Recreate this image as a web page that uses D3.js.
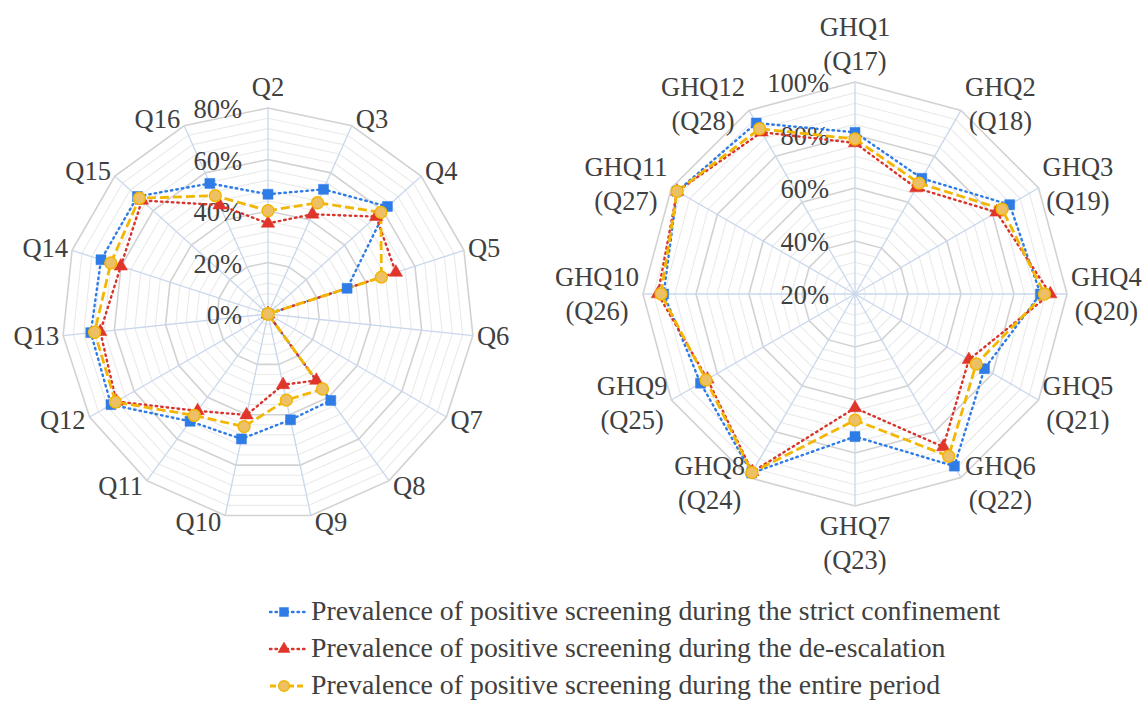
<!DOCTYPE html>
<html>
<head>
<meta charset="utf-8">
<script src="https://cdn.jsdelivr.net/npm/d3@7"></script>
<style>
  html, body { margin: 0; padding: 0; background: #fff; }
  svg { display: block; font-family: "Liberation Serif", "Times New Roman", serif; }
</style>
</head>
<body>
<div id="chart"></div>
<script>
// ---- data ----
const leftCategories = ['Q2', 'Q3', 'Q4', 'Q5', 'Q6', 'Q7', 'Q8', 'Q9', 'Q10', 'Q11', 'Q12', 'Q13', 'Q14', 'Q15', 'Q16'];
const leftStrict  = [46.5, 53.0, 62.4, 32.3, 0, 0, 41.5, 42.0, 49.6, 51.5, 70.4, 69.2, 68.2, 68.2, 55.5];
const leftDeesc   = [35.2, 42.4, 56.5, 52.2, 0, 0, 31.9, 28.1, 40.1, 46.5, 68.0, 65.5, 60.1, 65.9, 46.3];
const leftEntire  = [40.1, 47.3, 59.0, 46.3, 0, 0, 36.0, 34.2, 44.7, 48.7, 68.4, 67.7, 64.2, 67.2, 50.3];
const leftTicks = ['0%', '20%', '40%', '60%', '80%'];

const rightCategories = [
  ['GHQ1', '(Q17)'], ['GHQ2', '(Q18)'], ['GHQ3', '(Q19)'], ['GHQ4', '(Q20)'],
  ['GHQ5', '(Q21)'], ['GHQ6', '(Q22)'], ['GHQ7', '(Q23)'], ['GHQ8', '(Q24)'],
  ['GHQ9', '(Q25)'], ['GHQ10', '(Q26)'], ['GHQ11', '(Q27)'], ['GHQ12', '(Q28)']
];
const rightStrict = [81.0, 70.4, 87.4, 90.0, 76.4, 95.0, 73.8, 98.0, 87.3, 92.2, 97.5, 94.5];
const rightDeesc  = [77.0, 66.2, 81.7, 93.7, 69.6, 86.6, 63.0, 97.5, 84.3, 94.4, 97.5, 90.5];
const rightEntire = [78.5, 68.3, 84.1, 91.5, 72.8, 90.7, 67.6, 97.8, 84.9, 93.2, 97.5, 92.0];
const rightTicks = ['20%', '40%', '60%', '80%', '100%'];

const seriesNames = [
  'Prevalence of positive screening during the strict confinement',
  'Prevalence of positive screening during the de-escalation',
  'Prevalence of positive screening during the entire period'
];

// ---- styles ----
const W = 1146, H = 701;
const textColor = '#404040';
const labelSize = 26.5;
const seriesStyle = [
  { color: '#2F7CE6', dash: '1.5,4', width: 2.4, symbol: d3.symbolSquare, size: 100, fill: '#2F7CE6', stroke: '#2F7CE6' },
  { color: '#D9342B', dash: '1.5,4', width: 2.4, symbol: d3.symbolTriangle, size: 78, fill: '#E0352A', stroke: '#E0352A' },
  { color: '#F2B705', dash: '9,4', width: 2.8, symbol: d3.symbolCircle, size: 110, fill: '#EDC066', stroke: '#F2B705' }
];

const svg = d3.select('#chart').append('svg')
  .attr('width', W)
  .attr('height', H);

function drawRadar(opt) {
  const n = opt.categories.length;
  const g = svg.append('g').attr('transform', `translate(${opt.cx},${opt.cy})`);

  const r = d3.scaleLinear().domain([opt.min, opt.max]).range([0, opt.R]);
  const angle = d3.scaleLinear().domain([0, n]).range([0, 2 * Math.PI]);

  const ring = d3.lineRadial()
    .angle((d, i) => angle(i))
    .radius(d => r(d))
    .curve(d3.curveLinearClosed);

  // minor + major rings
  const minorVals = d3.range(opt.min + opt.minor, opt.max + 0.001, opt.minor);
  minorVals.forEach(v => {
    const k = (v - opt.min) / opt.major;
    const major = Math.abs(k - Math.round(k)) < 1e-6;
    g.append('path')
      .attr('d', ring(d3.range(n).map(() => v)))
      .attr('fill', 'none')
      .attr('stroke', major ? '#D2D2D2' : '#EAEAEA')
      .attr('stroke-width', major ? 1.6 : 1.1);
  });

  // spokes
  g.selectAll('.spoke')
    .data(d3.range(n))
    .join('line')
    .attr('class', 'spoke')
    .attr('x1', 0).attr('y1', 0)
    .attr('x2', i => Math.sin(angle(i)) * opt.R)
    .attr('y2', i => -Math.cos(angle(i)) * opt.R)
    .attr('stroke', '#C9D7EC')
    .attr('stroke-width', 1.3);

  // tick labels
  g.selectAll('.tick')
    .data(opt.ticks)
    .join('text')
    .attr('class', 'tick')
    .attr('x', -26)
    .attr('y', (d, i) => -r(opt.min + i * opt.major) + 10)
    .attr('text-anchor', 'end')
    .attr('font-size', labelSize)
    .attr('fill', textColor)
    .text(d => d);

  // category labels, placed beside the outer vertex the way Excel does
  const fs = labelSize, lineH = 34, capH = 0.66 * fs;
  opt.categories.forEach((lab, i) => {
    const lines = Array.isArray(lab) ? lab : [lab];
    const a = angle(i);
    const sx = Math.sin(a), cy0 = Math.cos(a);
    const vx = sx * opt.R, vy = -cy0 * opt.R;
    const t = g.append('text')
      .attr('font-size', fs)
      .attr('fill', textColor)
      .attr('text-anchor', 'middle');
    lines.forEach((l, k) => {
      t.append('tspan').attr('x', 0).attr('dy', k ? lineH : 0).text(l);
    });
    const hw = t.node().getBBox().width / 2;
    const hh = ((lines.length - 1) * lineH + capH) / 2;
    let cx, cy;
    if (Math.abs(sx) < 0.05) {
      cx = vx;
      cy = vy - Math.sign(cy0) * (hh + 12);
    } else {
      cx = vx + Math.sign(sx) * (hw + 4);
      cy = vy - 7 * cy0;
    }
    const y0 = cy - (lines.length - 1) * lineH / 2 + capH / 2;
    t.attr('transform', `translate(${cx},${y0})`);
  });

  // series
  const line = d3.lineRadial()
    .angle((d, i) => angle(i))
    .radius(d => r(Math.max(d, opt.min)))
    .curve(d3.curveLinearClosed);

  opt.series.forEach((vals, s) => {
    const st = seriesStyle[s];
    g.append('path')
      .attr('d', line(vals))
      .attr('fill', 'none')
      .attr('stroke', st.color)
      .attr('stroke-width', st.width)
      .attr('stroke-dasharray', st.dash)
      .attr('stroke-linecap', s < 2 ? 'round' : 'butt');
  });
  opt.series.forEach((vals, s) => {
    const st = seriesStyle[s];
    g.selectAll(`.m${s}`)
      .data(vals)
      .join('path')
      .attr('class', `m${s}`)
      .attr('d', d3.symbol().type(st.symbol).size(st.size))
      .attr('transform', (d, i) => {
        const rr = r(Math.max(d, opt.min));
        return `translate(${Math.sin(angle(i)) * rr},${-Math.cos(angle(i)) * rr})`;
      })
      .attr('fill', st.fill)
      .attr('stroke', st.stroke)
      .attr('stroke-width', s === 2 ? 1.5 : 0.5);
  });
}

drawRadar({
  cx: 268, cy: 314, R: 206, min: 0, max: 80, major: 20, minor: 4,
  categories: leftCategories, ticks: leftTicks,
  series: [leftStrict, leftDeesc, leftEntire]
});

drawRadar({
  cx: 855, cy: 294, R: 212, min: 20, max: 100, major: 20, minor: 4,
  categories: rightCategories, ticks: rightTicks,
  series: [rightStrict, rightDeesc, rightEntire]
});

// legend
const legend = svg.append('g').attr('transform', 'translate(270,0)');
seriesNames.forEach((name, i) => {
  const st = seriesStyle[i];
  const baseY = 620 + i * 37;
  const row = legend.append('g').attr('transform', `translate(0,${baseY - 8})`);
  row.append('line')
    .attr('x1', 0).attr('x2', 35).attr('y1', 0).attr('y2', 0)
    .attr('stroke', st.color)
    .attr('stroke-width', st.width)
    .attr('stroke-dasharray', i < 2 ? st.dash : '6,3')
    .attr('stroke-linecap', i < 2 ? 'round' : 'butt');
  row.append('path')
    .attr('d', d3.symbol().type(st.symbol).size(st.size * 0.8)())
    .attr('transform', 'translate(14,0)')
    .attr('fill', st.fill)
    .attr('stroke', st.stroke)
    .attr('stroke-width', i === 2 ? 1.5 : 0.5);
  row.append('text')
    .attr('x', 41)
    .attr('y', 8)
    .attr('font-size', 27.8)
    .attr('fill', textColor)
    .text(name);
});
</script>
</body>
</html>
